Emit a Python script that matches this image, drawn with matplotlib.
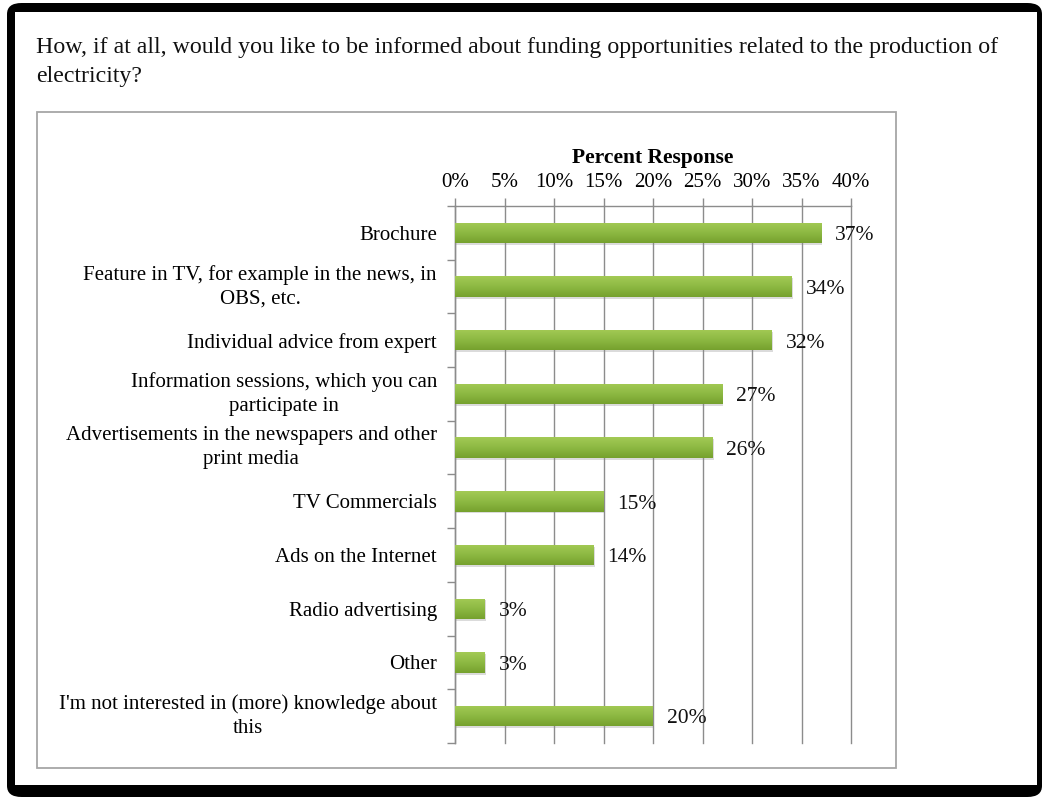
import numpy as np
import matplotlib
matplotlib.use("Agg")
import matplotlib.pyplot as plt
from matplotlib.patches import FancyBboxPatch, Rectangle
from matplotlib.colors import LinearSegmentedColormap

plt.rcParams['font.family'] = ['Liberation Serif', 'DejaVu Serif']

question = ("How, if at all, would you like to be informed about funding opportunities related to the production of\n"
            "electricity?")
categories = [
    "Brochure",
    "Feature in TV, for example in the news, in\nOBS, etc.",
    "Individual advice from expert",
    "Information sessions, which you can\nparticipate in",
    "Advertisements in the newspapers and other\nprint media",
    "TV Commercials",
    "Ads on the Internet",
    "Radio advertising",
    "Other",
    "I'm not interested in (more) knowledge about\nthis",
]
percent = [37, 34, 32, 27, 26, 15, 14, 3, 3, 20]
x_ticks = [0, 5, 10, 15, 20, 25, 30, 35, 40]
x_title = "Percent Response"

W, H = 1042, 798
fig = plt.figure(figsize=(W / 100, H / 100), dpi=100)
fig.patch.set_facecolor("white")


def fx(px):
    return px / W


def fy(py):
    return 1 - py / H


# page frame: black rounded border, heavier on the left and bottom
outer = FancyBboxPatch((fx(7), fy(797)), fx(1042) - fx(7), fy(3) - fy(797),
                       boxstyle="round,pad=0,rounding_size=0.014",
                       transform=fig.transFigure, facecolor="black",
                       edgecolor="none", zorder=0)
fig.add_artist(outer)
inner = Rectangle((fx(15), fy(785)), fx(1037) - fx(15), fy(12) - fy(785),
                  transform=fig.transFigure, facecolor="white",
                  edgecolor="none", zorder=0.5)
fig.add_artist(inner)

# chart area box
box = Rectangle((fx(37), fy(768)), fx(896) - fx(37), fy(112) - fy(768),
                transform=fig.transFigure, facecolor="white",
                edgecolor="#a6a6a6", linewidth=1.3, zorder=1)
fig.add_artist(box)

fig.text(fx(36), fy(37), question, ha="left", va="top", fontsize=17.2,
         linespacing=1.5, color="#111111", zorder=2)

ax = fig.add_axes([fx(455), fy(743), fx(851) - fx(455), fy(206) - fy(743)])
ax.set_zorder(3)
ax.patch.set_alpha(0)

y = np.arange(len(categories))
bar_h = 0.38

# soft shadow under each bar
ax.barh(y + 0.035, percent, height=bar_h, left=0.12, color="#8a8a8a",
        alpha=0.3, zorder=2, linewidth=0)
bars = ax.barh(y, percent, height=bar_h, color="#8ab53e", zorder=3,
               linewidth=0)

# vertical green gradient inside each bar: light on top, darker below
grad_cmap = LinearSegmentedColormap.from_list(
    "bar_green", ["#a3ca55", "#8db943", "#76a12e"])
grad = np.linspace(0, 1, 64).reshape(-1, 1)
for b in bars:
    x0, y0 = b.get_x(), b.get_y()
    w, h = b.get_width(), b.get_height()
    im = ax.imshow(grad, cmap=grad_cmap, aspect="auto",
                   extent=(x0, x0 + w, y0 + h, y0),
                   origin="upper", zorder=4, interpolation="bilinear")
    im.set_clip_path(b)

for yi, v in zip(y, percent):
    ax.annotate(f"{v}%", (v, yi), xytext=(10, -2), textcoords="offset points",
                ha="left", va="center", fontsize=15.5, color="#111111",
                zorder=6)

ax.set_xlim(0, 40)
ax.set_ylim(len(categories) - 0.5, -0.5)

ax.xaxis.tick_top()
ax.xaxis.set_label_position("top")
ax.set_xticks(x_ticks)
ax.set_xticklabels([f"{t}%" for t in x_ticks])
ax.set_xlabel(x_title, fontsize=15.5, fontweight="bold", labelpad=7)
ax.tick_params(axis="x", which="major", direction="out", length=6,
               width=1, color="#8c8c8c", labelsize=15, pad=4)
ax.grid(axis="x", color="#8c8c8c", linewidth=1, zorder=1)
for gl in ax.get_xgridlines():
    gl.set_clip_on(False)
ax.set_axisbelow(True)

ax.set_yticks(y)
ax.set_yticklabels(categories, multialignment="center", fontsize=15,
                   linespacing=1.35)
for lbl in ax.get_yticklabels():
    if "\n" in lbl.get_text():
        lbl.set_verticalalignment("center")
ax.set_yticks(np.arange(len(categories) + 1) - 0.5, minor=True)
ax.tick_params(axis="y", which="major", length=0, pad=13)
ax.tick_params(axis="y", which="minor", direction="out", length=6,
               width=1, color="#8c8c8c")

for side in ("right", "bottom"):
    ax.spines[side].set_visible(False)
for side in ("top", "left"):
    ax.spines[side].set_color("#8c8c8c")
    ax.spines[side].set_linewidth(1)

fig.savefig("out.png", dpi=100, facecolor="white")
